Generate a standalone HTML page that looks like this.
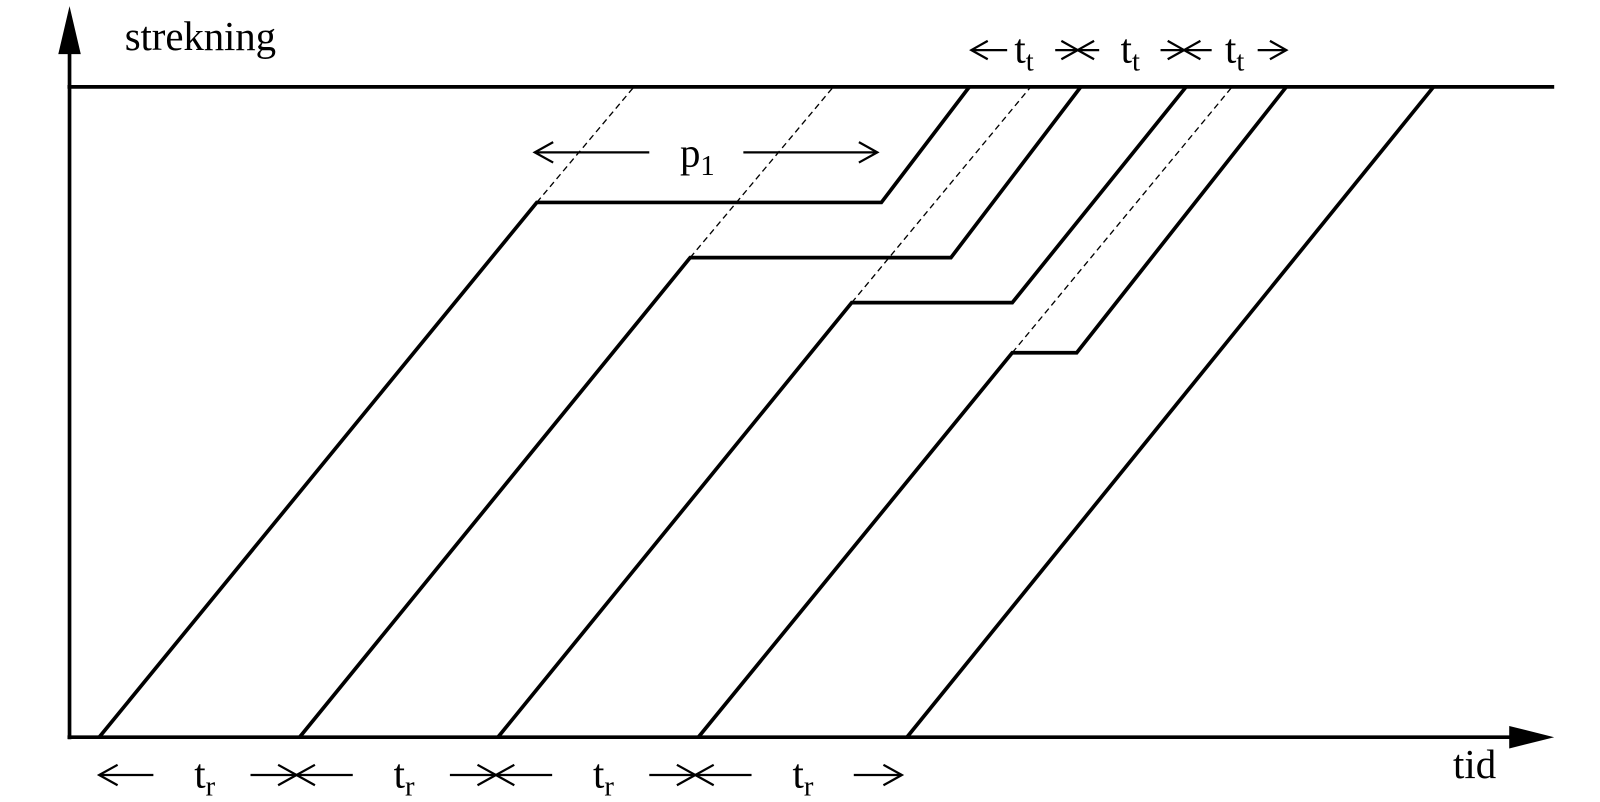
<!DOCTYPE html>
<html><head><meta charset="utf-8"><style>
body{margin:0;background:#fff}
svg{display:block}
text{font-family:"Liberation Serif",serif;fill:#000}
</style></head><body>
<svg width="1600" height="802" viewBox="0 0 1600 802" xmlns="http://www.w3.org/2000/svg">
<g transform="translate(0,1) scale(1.0225)">
<g stroke="#000" stroke-width="3.6" fill="none">
<line x1="68" y1="40" x2="68" y2="722"/>
<line x1="66" y1="84" x2="1520" y2="84"/>
<line x1="66" y1="720" x2="1490" y2="720"/>
<polyline points="97,720 525,197 862,197 948,84"/>
<polyline points="293,720 675,251 930,251 1057,84"/>
<polyline points="487,720 833,295 990,295 1160,84"/>
<polyline points="683,720 990,344 1053,344 1258,84"/>
<polyline points="887,720 1402,84"/>
</g>
<polygon points="68,5 57,52 79,52" fill="#000"/>
<polygon points="1520,720 1476,709 1476,731" fill="#000"/>
<g stroke="#000" stroke-width="1.3" stroke-dasharray="6,4" fill="none">
<line x1="525" y1="197" x2="620" y2="84"/>
<line x1="675" y1="251" x2="815" y2="84"/>
<line x1="833" y1="295" x2="1008" y2="84"/>
<line x1="990" y1="344" x2="1205" y2="84"/>
</g>
<g stroke="#000" stroke-width="2.2" fill="none">
<line x1="97" y1="757" x2="150" y2="757"/><polyline points="115,747 97,757 115,767"/>
<line x1="245" y1="757" x2="345" y2="757"/><polyline points="272,747 290,757 272,767"/><polyline points="308,747 290,757 308,767"/>
<line x1="440" y1="757" x2="540" y2="757"/><polyline points="467,747 485,757 467,767"/><polyline points="503,747 485,757 503,767"/>
<line x1="635" y1="757" x2="735" y2="757"/><polyline points="662,747 680,757 662,767"/><polyline points="698,747 680,757 698,767"/>
<line x1="835" y1="757" x2="882" y2="757"/><polyline points="864,747 882,757 864,767"/>
<line x1="523" y1="148" x2="635" y2="148"/><polyline points="541,138 523,148 541,158"/>
<line x1="727" y1="148" x2="858" y2="148"/><polyline points="840,138 858,148 840,158"/>
<line x1="950" y1="48" x2="985" y2="48"/><polyline points="966,39 950,48 966,57"/>
<line x1="1032" y1="48" x2="1075" y2="48"/><polyline points="1038,39 1054,48 1038,57"/><polyline points="1070,39 1054,48 1070,57"/>
<line x1="1135" y1="48" x2="1185" y2="48"/><polyline points="1142,39 1158,48 1142,57"/><polyline points="1174,39 1158,48 1174,57"/>
<line x1="1230" y1="48" x2="1258" y2="48"/><polyline points="1242,39 1258,48 1242,57"/>
</g>
<text x="122" y="48" font-size="40" textLength="148">strekning</text>
<text x="1421" y="760" font-size="40">tid</text>
<g font-size="40">
<text x="190" y="769">t<tspan font-size="28" dy="8">r</tspan></text>
<text x="385" y="769">t<tspan font-size="28" dy="8">r</tspan></text>
<text x="580" y="769">t<tspan font-size="28" dy="8">r</tspan></text>
<text x="775" y="769">t<tspan font-size="28" dy="8">r</tspan></text>
<text x="665" y="162">p<tspan font-size="28" dy="8">1</tspan></text>
<text x="992" y="60">t<tspan font-size="28" dy="8">t</tspan></text>
<text x="1096" y="60">t<tspan font-size="28" dy="8">t</tspan></text>
<text x="1198" y="60">t<tspan font-size="28" dy="8">t</tspan></text>
</g>
</g>
</svg>
</body></html>
